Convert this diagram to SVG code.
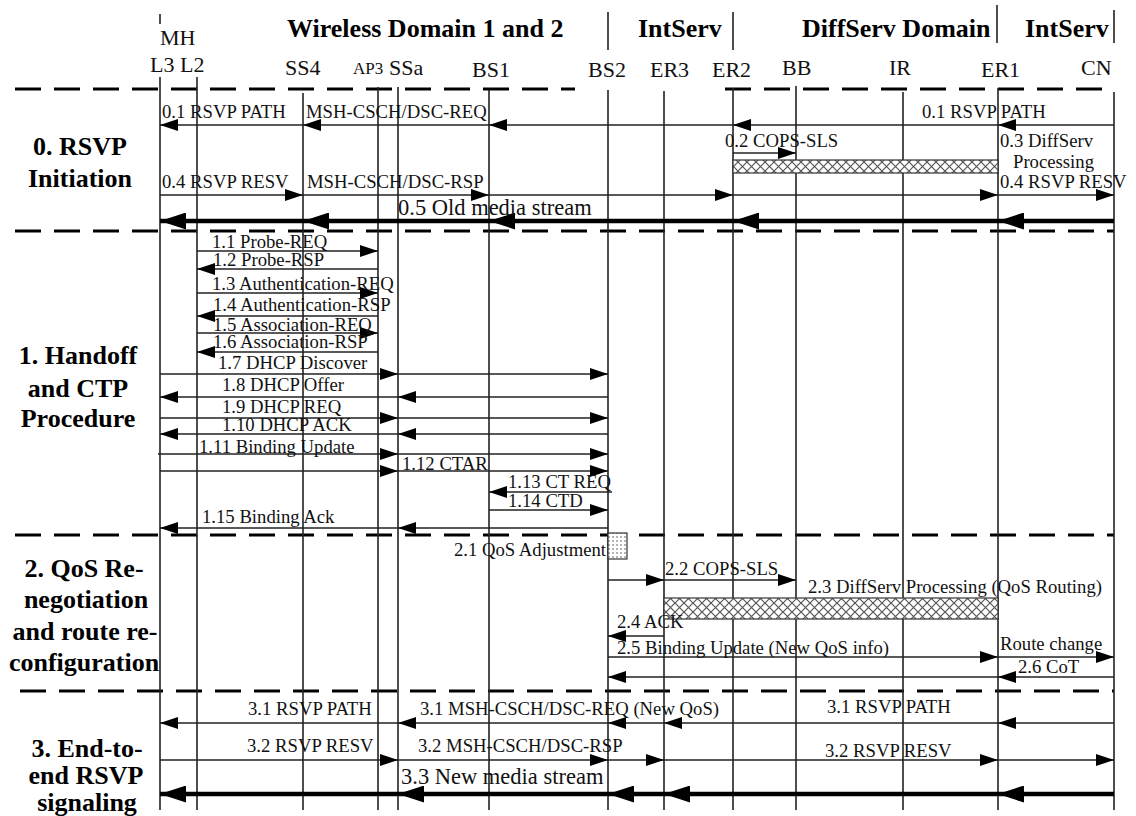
<svg xmlns="http://www.w3.org/2000/svg" width="1136" height="816" viewBox="0 0 1136 816">
<defs>
<style>
.ll{stroke:#222;stroke-width:1.6;fill:none}
.msg{fill:none;stroke:#222;stroke-width:1.4;marker-mid:url(#ah);marker-end:url(#ah)}
.big{fill:none;stroke:#000;stroke-width:4.5;marker-mid:url(#AH);marker-end:url(#AH)}
.sep{stroke:#000;stroke-width:3;stroke-dasharray:26 13;fill:none}
.t{font-family:"Liberation Serif","Times New Roman",serif;font-size:18.7px;fill:#111}
.m{font-family:"Liberation Serif","Times New Roman",serif;font-size:22.5px;fill:#111}
.n{font-family:"Liberation Serif","Times New Roman",serif;font-size:22px;fill:#111}
.d{font-family:"Liberation Serif","Times New Roman",serif;font-size:26px;font-weight:bold;fill:#000}
.s{font-family:"Liberation Serif","Times New Roman",serif;font-size:26px;font-weight:bold;fill:#000;text-anchor:middle}
</style>
<marker id="ah" viewBox="0 0 18 12" refX="18" refY="6" markerWidth="18" markerHeight="12" markerUnits="userSpaceOnUse" orient="auto"><path d="M0,0 L18,6 L0,12 z" fill="#000"/></marker>
<marker id="AH" viewBox="0 0 26 17" refX="26" refY="8.5" markerWidth="26" markerHeight="17" markerUnits="userSpaceOnUse" orient="auto"><path d="M0,0 L26,8.5 L0,17 z" fill="#000"/></marker>
<pattern id="hatch" width="9" height="9" patternUnits="userSpaceOnUse"><rect width="9" height="9" fill="#fff"/><path d="M0,0 L9,9 M9,0 L0,9" stroke="#555" stroke-width="1.2"/></pattern>
<pattern id="dots" width="4" height="4" patternUnits="userSpaceOnUse"><rect width="4" height="4" fill="#fff"/><circle cx="1" cy="1" r="0.8" fill="#555"/></pattern>
</defs>
<rect width="1136" height="816" fill="#fff"/>

<g id="domains">
<text class="d" x="287" y="37">Wireless Domain 1 and 2</text>
<text class="d" x="638" y="37">IntServ</text>
<text class="d" x="802" y="37">DiffServ Domain</text>
<text class="d" x="1025" y="37">IntServ</text>
<path class="ll" d="M160,14 V24 M608,12 V50 M733,12 V50 M997,5 V43 M1114,10 V43"/>
</g>

<g id="separators">
<path class="sep" d="M15,89 H575 M725,89 H1114 M15,231 H1114 M15,535 H1114 M20,691 H1114"/>
</g>

<g id="phases">
<text class="s" x="80" y="155">0. RSVP</text>
<text class="s" x="80" y="187">Initiation</text>
<text class="s" x="78" y="364">1. Handoff</text>
<text class="s" x="78" y="397">and CTP</text>
<text class="s" x="78" y="427">Procedure</text>
<text class="s" x="84" y="577">2. QoS Re-</text>
<text class="s" x="86" y="608">negotiation</text>
<text class="s" x="85" y="640">and route re-</text>
<text class="s" x="84" y="671">configuration</text>
<text class="s" x="87" y="757">3. End-to-</text>
<text class="s" x="86" y="784">end RSVP</text>
<text class="s" x="87" y="811">signaling</text>
</g>

<g id="MH">
<text class="n" x="160" y="45">MH</text>
<text class="n" x="150" y="72">L3 L2</text>
<line class="ll" x1="160" y1="77" x2="160" y2="810"/>
<line class="ll" x1="197" y1="77" x2="197" y2="810"/>
</g>
<g id="SS4"><text class="n" x="285" y="75">SS4</text><line class="ll" x1="303" y1="93" x2="303" y2="810"/></g>
<g id="AP3"><text class="n" x="353" y="74" style="font-size:17px">AP3</text><line class="ll" x1="378" y1="87" x2="378" y2="810"/></g>
<g id="SSa"><text class="n" x="389" y="75">SSa</text><line class="ll" x1="398" y1="87" x2="398" y2="810"/></g>
<g id="BS1"><text class="n" x="472" y="77">BS1</text><line class="ll" x1="489" y1="90" x2="489" y2="810"/></g>
<g id="BS2"><text class="n" x="588" y="77">BS2</text><line class="ll" x1="608" y1="90" x2="608" y2="810"/></g>
<g id="ER3"><text class="n" x="650" y="77">ER3</text><line class="ll" x1="664" y1="91" x2="664" y2="810"/></g>
<g id="ER2"><text class="n" x="712" y="77">ER2</text><line class="ll" x1="733" y1="88" x2="733" y2="810"/></g>
<g id="BB"><text class="n" x="782" y="75">BB</text><line class="ll" x1="796" y1="86" x2="796" y2="810"/></g>
<g id="IR"><text class="n" x="889" y="75">IR</text><line class="ll" x1="903" y1="92" x2="903" y2="810"/></g>
<g id="ER1"><text class="n" x="981" y="77">ER1</text><line class="ll" x1="998" y1="88" x2="998" y2="810"/></g>
<g id="CN"><text class="n" x="1081" y="75">CN</text><line class="ll" x1="1114" y1="92" x2="1114" y2="810"/></g>

<g id="processing">
<rect x="733" y="160" width="265" height="13" fill="url(#hatch)" stroke="#333" stroke-width="1.2"/>
<text class="t" x="1000" y="147">0.3 DiffServ</text>
<text class="t" x="1013" y="168">Processing</text>
<rect x="608" y="533" width="19" height="26" fill="url(#dots)" stroke="#333" stroke-width="1.2"/>
<text class="t" x="606" y="556" text-anchor="end">2.1 QoS Adjustment</text>
<rect x="664" y="598" width="334" height="21" fill="url(#hatch)" stroke="#333" stroke-width="1.2"/>
<text class="t" x="808" y="593">2.3 DiffServ Processing (QoS Routing)</text>
</g>

<g id="connectors">
<path class="msg" d="M1114,125 L998,125 L733,125 L489,125 L303,125 L160,125"/>
<path class="msg" d="M733,153 L796,153"/>
<path class="msg" d="M160,195 L303,195 L489,195 L733,195 L998,195 L1114,195"/>
<path class="big" d="M1114,221 L998,221 L733,221 L489,221 L303,221 L160,221"/>

<path class="msg" d="M197,251 L378,251"/>
<path class="msg" d="M378,269 L197,269"/>
<path class="msg" d="M197,293 L378,293"/>
<path class="msg" d="M378,316 L197,316"/>
<path class="msg" d="M197,333 L378,333"/>
<path class="msg" d="M378,352 L197,352"/>
<path class="msg" d="M160,374 L398,374 L608,374"/>
<path class="msg" d="M608,397 L398,397 L160,397"/>
<path class="msg" d="M160,418 L398,418 L608,418"/>
<path class="msg" d="M608,434 L398,434 L160,434"/>
<path class="msg" d="M158,454 L398,454 L608,454"/>
<path class="msg" d="M160,471 L398,471 L608,471"/>
<path class="msg" d="M612,492 L489,492"/>
<path class="msg" d="M489,510 L608,510"/>
<path class="msg" d="M608,528 L398,528 L160,528"/>

<path class="msg" d="M608,580 L664,580 L796,580"/>
<path class="msg" d="M664,636 L608,636"/>
<path class="msg" d="M608,657 L998,657 L1114,657"/>
<path class="msg" d="M1114,677 L998,677 L608,677"/>

<path class="msg" d="M1114,723 L998,723 L664,723 L608,723 L398,723 L160,723"/>
<path class="msg" d="M160,760 L398,760 L608,760 L664,760 L998,760 L1114,760"/>
<path class="big" d="M1114,794 L998,794 L664,794 L608,794 L398,794 L160,794"/>

<text class="t" x="162" y="118">0.1 RSVP PATH</text>
<text class="t" x="306" y="118">MSH-CSCH/DSC-REQ</text>
<text class="t" x="922" y="118">0.1 RSVP PATH</text>
<text class="t" x="725" y="147">0.2 COPS-SLS</text>
<text class="t" x="162" y="188">0.4 RSVP RESV</text>
<text class="t" x="307" y="188">MSH-CSCH/DSC-RSP</text>
<text class="t" x="1000" y="188">0.4 RSVP RESV</text>
<text class="m" x="398" y="215">0.5 Old media stream</text>

<text class="t" x="212" y="248">1.1 Probe-REQ</text>
<text class="t" x="213" y="266">1.2 Probe-RSP</text>
<text class="t" x="212" y="290">1.3 Authentication-REQ</text>
<text class="t" x="213" y="311">1.4 Authentication-RSP</text>
<text class="t" x="213" y="331">1.5 Association-REQ</text>
<text class="t" x="213" y="348">1.6 Association-RSP</text>
<text class="t" x="218" y="369">1.7 DHCP Discover</text>
<text class="t" x="222" y="391">1.8 DHCP Offer</text>
<text class="t" x="222" y="413">1.9 DHCP REQ</text>
<text class="t" x="222" y="431">1.10 DHCP ACK</text>
<text class="t" x="199" y="453">1.11 Binding Update</text>
<text class="t" x="402" y="470">1.12 CTAR</text>
<text class="t" x="508" y="488">1.13 CT REQ</text>
<text class="t" x="508" y="507">1.14 CTD</text>
<text class="t" x="202" y="523">1.15 Binding Ack</text>

<text class="t" x="665" y="575">2.2 COPS-SLS</text>
<text class="t" x="617" y="628">2.4 ACK</text>
<text class="t" x="617" y="654">2.5 Binding Update (New QoS info)</text>
<text class="t" x="1000" y="650">Route change</text>
<text class="t" x="1018" y="673">2.6 CoT</text>

<text class="t" x="248" y="715">3.1 RSVP PATH</text>
<text class="t" x="420" y="715">3.1 MSH-CSCH/DSC-REQ (New QoS)</text>
<text class="t" x="827" y="713">3.1 RSVP PATH</text>
<text class="t" x="247" y="752">3.2 RSVP RESV</text>
<text class="t" x="418" y="752">3.2 MSH-CSCH/DSC-RSP</text>
<text class="t" x="825" y="757">3.2 RSVP RESV</text>
<text class="m" x="401" y="784">3.3 New media stream</text>
</g>
</svg>
